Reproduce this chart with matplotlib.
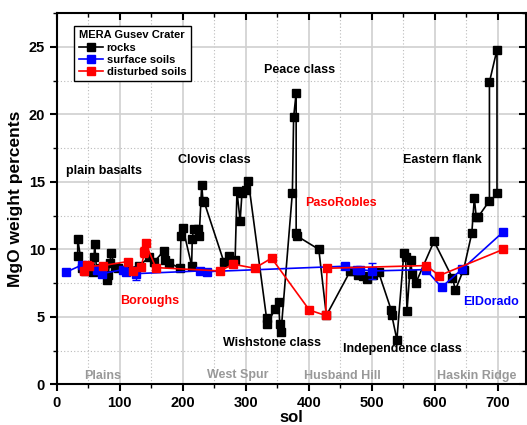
import matplotlib
matplotlib.use("Agg")
import matplotlib.pyplot as plt
from matplotlib.ticker import MultipleLocator

plt.rcParams['font.family'] = ['Liberation Sans', 'DejaVu Sans']
plt.rcParams['font.weight'] = 'bold'

# rocks (black)
rock_sol = [33, 33, 40, 45, 52, 58, 59, 60, 63, 70, 79, 81, 84, 86, 92, 97, 110, 130,
            147, 155, 170, 172, 178, 196, 197, 200, 214, 215, 217, 224, 226, 230, 232, 234,
            265, 274, 283, 286, 291, 294, 300, 304, 333, 334, 347, 352, 354, 356,
            374, 376, 380, 380, 381, 416, 428, 466, 471, 479, 486, 492, 502, 511,
            531, 532, 540, 551, 554, 556, 562, 564, 570, 599, 628, 633, 646, 659,
            663, 666, 669, 687, 687, 699, 699]
rock_mgo = [9.5, 10.8, 8.6, 8.4, 8.6, 8.3, 9.4, 10.4, 8.5, 8.6, 7.75, 8.1, 9.0, 9.7, 8.7, 8.6, 8.5, 8.8,
            9.4, 9.1, 9.9, 9.2, 9.0, 8.6, 11.0, 11.6, 8.8, 10.8, 11.5, 11.5, 11.0, 14.8, 13.6, 13.5,
            9.1, 9.5, 9.2, 14.3, 12.1, 14.2, 14.4, 15.1, 4.9, 4.5, 5.6, 6.1, 4.5, 3.9,
            14.2, 19.8, 21.6, 11.2, 11.0, 10.0, 5.1, 8.4, 8.4, 8.1, 8.0, 7.8, 8.1, 8.3,
            5.5, 5.1, 3.3, 9.7, 9.4, 5.4, 9.2, 8.2, 7.5, 10.6, 7.9, 7.0, 8.5, 11.2,
            13.8, 12.4, 12.4, 13.6, 22.4, 24.8, 14.2]

# surface soils (blue)
surf_sol = [14, 40, 43, 63, 71, 105, 110, 125, 227, 239, 457, 476, 482, 501, 586, 611, 644, 709]
surf_mgo = [8.3, 8.85, 8.45, 8.5, 8.2, 8.5, 8.3, 8.2, 8.4, 8.35, 8.75, 8.5, 8.5, 8.4, 8.5, 7.2, 8.55, 11.3]
surf_err = [0, 0, 0, 0, 0, 0, 0, 0.5, 0, 0, 0, 0, 0, 0.6, 0, 0, 0, 0]

# disturbed soils (red)
dist_sol = [43, 48, 51, 73, 113, 121, 134, 139, 141, 157, 259, 280, 314, 341, 401, 427, 429, 587, 607, 709]
dist_mgo = [8.4, 8.85, 8.75, 8.8, 9.1, 8.4, 8.7, 9.8, 10.45, 8.65, 8.4, 8.9, 8.6, 9.35, 5.5, 5.1, 8.6, 8.8, 8.05, 10.0]
dist_err = [0, 0, 0, 0, 0, 0, 0, 0.4, 0, 0, 0, 0, 0, 0, 0, 0, 0, 0, 0, 0]

fig = plt.figure(figsize=(5.27, 4.25), dpi=100)
ax = fig.add_axes([0.108, 0.0958, 0.89, 0.873])

ms = 5.5
ax.plot(rock_sol, rock_mgo, '-s', color='black', lw=1.2, ms=ms, label='rocks', zorder=3)
ax.plot(surf_sol, surf_mgo, '-s', color='blue', lw=1.2, ms=ms, label='surface soils', zorder=4)
ax.errorbar(surf_sol, surf_mgo, yerr=surf_err, fmt='none', ecolor='blue', capsize=3,
            elinewidth=1, zorder=4)
ax.plot(dist_sol, dist_mgo, '-s', color='red', lw=1.2, ms=ms, label='disturbed soils', zorder=5)
ax.errorbar(dist_sol, dist_mgo, yerr=dist_err, fmt='none', ecolor='red', capsize=3,
            elinewidth=1, zorder=5)

ax.set_xlim(0, 745)
ax.set_ylim(0, 27.5)
ax.xaxis.set_major_locator(MultipleLocator(100))
ax.xaxis.set_minor_locator(MultipleLocator(50))
ax.yaxis.set_major_locator(MultipleLocator(5))
ax.yaxis.set_minor_locator(MultipleLocator(2.5))
ax.grid(True, which='major', color='#d0d0d0', lw=1.2, zorder=0)
ax.grid(True, which='minor', color='#bbbbbb', lw=0.8, ls=(0, (1, 2)), zorder=0)
ax.set_axisbelow(True)

ax.tick_params(axis='both', which='major', labelsize=10.5, width=1.5, length=5, direction='out')
ax.tick_params(axis='both', which='minor', width=1.0, length=3, direction='out')
# inward ticks on top and right
ax.tick_params(which='both', top=True, right=True)
for tk in ax.xaxis.get_major_ticks() + ax.xaxis.get_minor_ticks():
    tk.tick2line.set_marker(3)
for tk in ax.yaxis.get_major_ticks() + ax.yaxis.get_minor_ticks():
    tk.tick2line.set_marker(0)
for t in ax.get_xticklabels() + ax.get_yticklabels():
    t.set_fontweight('bold')
for s in ax.spines.values():
    s.set_linewidth(1.5)

ax.set_xlabel('sol', fontsize=12, fontweight='bold', labelpad=0)
ax.set_ylabel('MgO weight percents', fontsize=12.5, fontweight='bold', labelpad=4)

fs = 9
ax.text(74, 15.8, 'plain basalts', fontsize=fs, fontweight='bold', ha='center', va='center')
ax.text(250, 16.6, 'Clovis class', fontsize=fs, fontweight='bold', ha='center', va='center')
ax.text(386, 23.3, 'Peace class', fontsize=fs, fontweight='bold', ha='center', va='center')
ax.text(612, 16.6, 'Eastern flank', fontsize=fs, fontweight='bold', ha='center', va='center')
ax.text(451, 13.4, 'PasoRobles', fontsize=fs, fontweight='bold', ha='center', va='center', color='red')
ax.text(147, 6.2, 'Boroughs', fontsize=fs, fontweight='bold', ha='center', va='center', color='red')
ax.text(689, 6.1, 'ElDorado', fontsize=fs, fontweight='bold', ha='center', va='center', color='blue')
ax.text(341, 3.05, 'Wishstone class', fontsize=fs, fontweight='bold', ha='center', va='center')
ax.text(549, 2.6, 'Independence class', fontsize=fs, fontweight='bold', ha='center', va='center')
gray = '#999999'
ax.text(73, 0.65, 'Plains', fontsize=fs, fontweight='bold', ha='center', va='center', color=gray)
ax.text(287, 0.72, 'West Spur', fontsize=fs, fontweight='bold', ha='center', va='center', color=gray)
ax.text(453, 0.65, 'Husband Hill', fontsize=fs, fontweight='bold', ha='center', va='center', color=gray)
ax.text(667, 0.65, 'Haskin Ridge', fontsize=fs, fontweight='bold', ha='center', va='center', color=gray)

leg = ax.legend(loc='upper left', bbox_to_anchor=(0.03, 0.975), title='MERA Gusev Crater',
                fontsize=8, title_fontsize=8, frameon=True, fancybox=False,
                handlelength=2.2, handletextpad=0.3, borderpad=0.4, labelspacing=0.2,
                borderaxespad=0.3, markerscale=1.0)
leg.get_frame().set_edgecolor('black')
leg.get_frame().set_linewidth(1.0)
leg.get_frame().set_alpha(1)
leg.get_title().set_fontweight('bold')
leg._legend_box.align = 'left'
for t in leg.get_texts():
    t.set_fontweight('bold')

fig.savefig('out.png', dpi=100)
